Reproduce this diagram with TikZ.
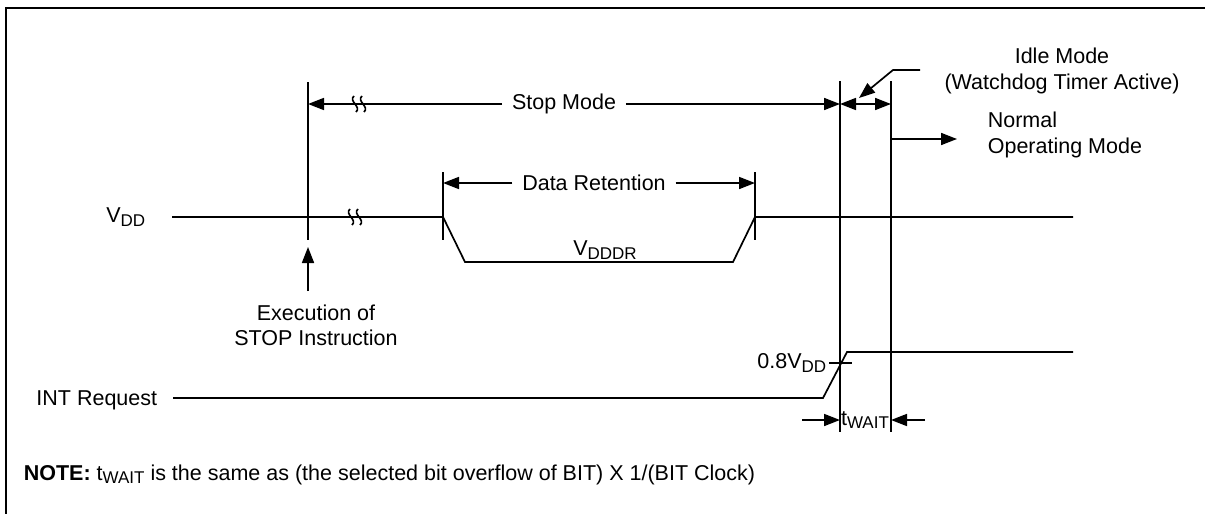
\documentclass[tikz,border=0pt]{standalone}
\usepackage{fontspec}
\setmainfont{Liberation Sans}
\usetikzlibrary{arrows.meta}

\tikzset{every node/.style={font=\fontsize{10.75}{12.6}\selectfont, inner sep=1pt}}
\tikzset{dim/.style={-{Triangle[length=8pt,width=6pt]}}}
\tikzset{ddim/.style={{Triangle[length=8pt,width=6pt]}-{Triangle[length=8pt,width=6pt]}}}
\tikzset{gap/.style={inner xsep=4.5pt}}
\tikzset{brk/.pic={
    \draw (-1,-8) .. controls (-7,-3) and (7,3) .. (1,8);
    \draw (7,-8) .. controls (1,-3) and (15,3) .. (9,8);
}}
\newcommand{\lowtxt}[1]{\raisebox{-0.3ex}{\fontsize{8.5}{9}\selectfont #1}}

\begin{document}
\begin{tikzpicture}[x=0.5pt, y=-0.5pt, line width=0.85pt]
    \useasboundingbox (0,0) rectangle (1205,514);
    \draw[line width=1.4pt] (6,520) -- (6,8) -- (1210,8);

    % marker lines
    \coordinate (s0) at (308,82);  \coordinate (s1) at (308,240);
    \coordinate (i0) at (840,81);  \coordinate (i1) at (840,432);
    \coordinate (n0) at (891,81);  \coordinate (n1) at (891,432);
    \coordinate (r0) at (443,172); \coordinate (r1) at (443,240);
    \coordinate (e0) at (755,172); \coordinate (e1) at (755,240);
    \draw (s0) -- (s1);
    \draw (i0) -- (i1);
    \draw (n0) -- (n1);
    \draw (r0) -- (r1);
    \draw (e0) -- (e1);

    % stop mode
    \node [gap] (stop) at (564,104) {Stop Mode};
    \draw [dim] (stop.west) -- (s0 |- stop);
    \draw [dim] (stop.east) -- (i0 |- stop);
    \pic at (355,104) {brk};
    \draw [ddim] (i0 |- stop) -- (n0 |- stop);

    % idle mode
    \node [align=center] (idle) at (1062,71) {Idle Mode\\(Watchdog Timer Active)};
    \coordinate (idleA) at (920,70);
    \coordinate (idleB) at (893,70);
    \coordinate (idleC) at (859,98);
    \draw [dim] (idleA) -- (idleB) -- (idleC);

    % normal operating mode
    \coordinate (norm) at (957,139);
    \draw [dim] (n0 |- norm) -- (norm);
    \node [align=left, anchor=west] (normal) at (985,135) {Normal\\Operating Mode};

    % data retention
    \node [gap] (ret) at (594,183) {Data Retention};
    \draw [dim] (ret.west) -- (r0 |- ret);
    \draw [dim] (ret.east) -- (e0 |- ret);

    % VDD
    \node [anchor=east] (vdd) at (148,217) {V\lowtxt{DD}};
    \coordinate (v0) at (172,217);
    \coordinate (v1) at (443,217);
    \coordinate (v2) at (465,262);
    \coordinate (v3) at (733,262);
    \coordinate (v4) at (755,217);
    \coordinate (v5) at (1073,217);
    \draw (v0) -- (v1) -- (v2) -- (v3) -- (v4) -- (v5);
    \pic at (351,217) {brk};
    \node (vdddr) at (605,250) {V\lowtxt{DDDR}};

    % execution of STOP
    \coordinate (x0) at (308,291);
    \coordinate (x1) at (308,247);
    \draw [dim] (x0) -- (x1);
    \node [align=center] (exec) at (316,325) {Execution of\\STOP Instruction};

    % INT request
    \node [anchor=east] (int) at (160,400) {INT Request};
    \coordinate (q0) at (173,398);
    \coordinate (q1) at (823,398);
    \coordinate (q2) at (847,352);
    \coordinate (q3) at (1073,352);
    \draw (q0) -- (q1) -- (q2) -- (q3);
    \coordinate (t0) at (829,363);
    \coordinate (t1) at (852,363);
    \draw (t0) -- (t1);
    \node [anchor=east] (lvl) at (t0) {0.8V\lowtxt{DD}};

    % t wait
    \coordinate (w0) at (802,420);
    \coordinate (w1) at (925,420);
    \draw [dim] (w0) -- (i1 |- w0);
    \draw [dim] (w1) -- (n1 |- w1);
    \node (twait) at (865,420) {t\lowtxt{WAIT}};

    % note
    \node [anchor=west] (note) at (21,475) {\textbf{NOTE:} t\lowtxt{WAIT} is the same as (the selected bit overflow of BIT) X 1/(BIT Clock)};
\end{tikzpicture}
\end{document}
